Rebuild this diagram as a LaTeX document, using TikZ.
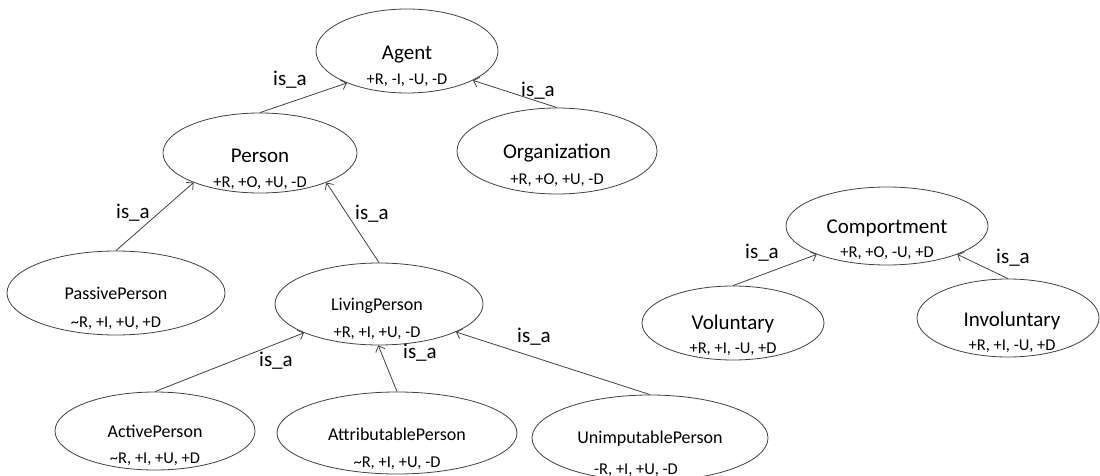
\documentclass[tikz,border=0pt]{standalone}
\usepackage{fontspec}
\setmainfont{Carlito}
\usetikzlibrary{shapes.geometric,arrows.meta}

\tikzset{
  ent/.style={ellipse, draw=black!75, line width=0.8pt, inner sep=0pt},
  bigname/.style={anchor=base, inner sep=0pt, font=\fontsize{21}{24}\selectfont},
  smallname/.style={anchor=base, inner sep=0pt, font=\fontsize{18}{21}\selectfont},
  props/.style={anchor=base, inner sep=0pt, font=\fontsize{16.5}{19}\selectfont},
  isalbl/.style={anchor=base, inner sep=0pt, font=\fontsize{21}{24}\selectfont},
  isa/.style={draw=black!75, line width=0.8pt, -{Straight Barb[length=5pt,width=10pt]}}
}

\begin{document}
\begin{tikzpicture}[x=1pt,y=-1pt]
            \useasboundingbox (0,0) rectangle (1100,476);

            % ellipses
            \node[ent, minimum width=182, minimum height=84] (agent) at (407,51) {};
            \node[ent, minimum width=194, minimum height=80] (person) at (260,153) {};
            \node[ent, minimum width=200, minimum height=86] (org) at (557,151) {};
            \node[ent, minimum width=218, minimum height=84] (passive) at (116,293) {};
            \node[ent, minimum width=208, minimum height=82] (living) at (379,304) {};
            \node[ent, minimum width=200, minimum height=78] (active) at (155,431) {};
            \node[ent, minimum width=240, minimum height=82] (attrib) at (397,433) {};
            \node[ent, minimum width=236, minimum height=86] (unimp) at (650,438) {};
            \node[ent, minimum width=202, minimum height=78] (comport) at (887,226) {};
            \node[ent, minimum width=182, minimum height=74] (volunt) at (733,323) {};
            \node[ent, minimum width=182, minimum height=78] (invol) at (1008,318) {};

            % names and properties
            \node[bigname] (agentN) at (407,60) {Agent};
            \node[props] (agentP) at (407,85) {+R, -I, -U, -D};
            \node[bigname] (personN) at (260,162) {Person};
            \node[props] (personP) at (260,187) {+R, +O, +U, -D};
            \node[bigname] (orgN) at (557,158) {Organization};
            \node[props] (orgP) at (557,184) {+R, +O, +U, -D};
            \node[smallname] (passiveN) at (116,299) {PassivePerson};
            \node[props] (passiveP) at (116,327) {\char`\~R, +I, +U, +D};
            \node[smallname] (livingN) at (377,310) {LivingPerson};
            \node[props] (livingP) at (377,337) {+R, +I, +U, -D};
            \node[smallname] (activeN) at (155,437) {ActivePerson};
            \node[props] (activeP) at (155,463) {\char`\~R, +I, +U, +D};
            \node[smallname] (attribN) at (397,440) {AttributablePerson};
            \node[props] (attribP) at (397,467) {\char`\~R, +I, +U, -D};
            \node[smallname] (unimpN) at (650,443) {UnimputablePerson};
            \node[props] (unimpP) at (636,474) {-R, +I, +U, -D};
            \node[bigname] (comportN) at (887,233) {Comportment};
            \node[props] (comportP) at (887,257) {+R, +O, -U, +D};
            \node[bigname] (voluntN) at (733,329) {Voluntary};
            \node[props] (voluntP) at (733,353) {+R, +I, -U, +D};
            \node[bigname] (involN) at (1012,326) {Involuntary};
            \node[props] (involP) at (1012,350) {+R, +I, -U, +D};

            % is_a links
            \draw[isa] (person.north) -- (agent.208);
            \draw[isa] (org.north) -- (agent.336);
            \draw[isa] (passive.north) -- (person.204);
            \draw[isa] (living.north) -- (person.336);
            \draw[isa] (active.north) -- (living.201);
            \draw[isa] (attrib.north) -- (living.269);
            \draw[isa] (unimp.north) -- (living.340);
            \draw[isa] (volunt.north) -- (comport.202);
            \draw[isa] (invol.north) -- (comport.338);

            \node[isalbl] (l1) at (290,86) {is\_a};
            \node[isalbl] (l2) at (538,97) {is\_a};
            \node[isalbl] (l3) at (133,218) {is\_a};
            \node[isalbl] (l4) at (372,219) {is\_a};
            \node[isalbl] (l5) at (276,366) {is\_a};
            \node[isalbl] (l6) at (420,358) {is\_a};
            \node[isalbl] (l7) at (534,342) {is\_a};
            \node[isalbl] (l8) at (762,258) {is\_a};
            \node[isalbl] (l9) at (1013,263) {is\_a};
\end{tikzpicture}
\end{document}
